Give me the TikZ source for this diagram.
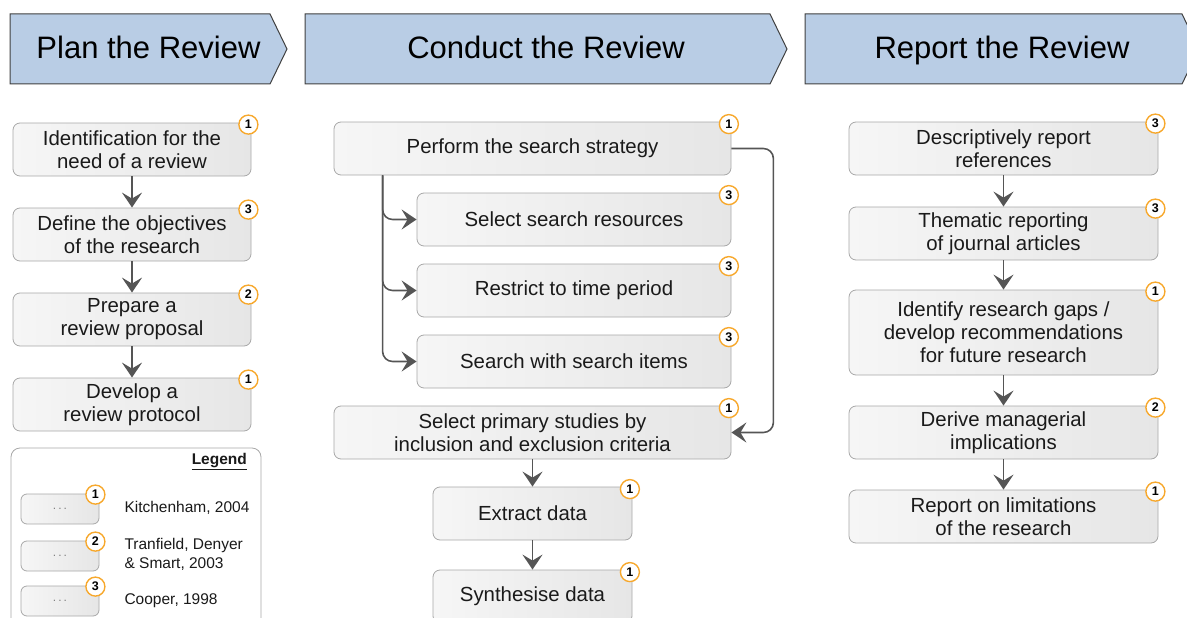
\documentclass[tikz,border=0pt]{standalone}
\usepackage{fontspec}
\setmainfont{Liberation Sans}
\usetikzlibrary{arrows.meta}
\definecolor{hdrfill}{HTML}{B9CDE5}
\definecolor{hdrline}{HTML}{404040}
\definecolor{boxline}{HTML}{A8A8A8}
\definecolor{boxL}{HTML}{F6F6F6}
\definecolor{boxR}{HTML}{E6E6E6}
\definecolor{badgeline}{HTML}{F7A82C}
\definecolor{arrcol}{HTML}{555555}
\definecolor{txt}{HTML}{1A1A1A}
\newcommand{\boxfont}{\fontsize{20.4}{23}\selectfont}
\newcommand{\hdrfont}{\fontsize{31}{36}\selectfont}
\newcommand{\badgefont}{\fontsize{12.5}{14}\selectfont\bfseries}
\newcommand{\legfont}{\fontsize{15.5}{19}\selectfont}
\tikzset{
  hdr/.style={draw=hdrline, fill=hdrfill, line width=1pt},
  hdrtext/.style={font=\hdrfont, text=black, text height=23pt, text depth=7pt},
  box/.style={draw=boxline, rounded corners=7pt, left color=boxL, right color=boxR,
    align=center, font=\boxfont, text=txt, inner sep=2pt, line width=0.8pt},
  badge/.style={circle, draw=badgeline, fill=white, line width=1.4pt,
    minimum size=19pt, inner sep=0pt, font=\badgefont},
  arr/.style={draw=arrcol, line width=1.6pt, -{Stealth[length=15pt,width=20pt,inset=6pt]}},
  legbox/.style={draw=boxline, rounded corners=9pt, fill=white, line width=0.8pt},
  minibox/.style={draw=boxline, rounded corners=6pt, left color=boxL, right color=boxR,
    line width=0.8pt, minimum width=78pt, minimum height=30pt, inner sep=0pt,
    font=\fontsize{12}{12}\selectfont, text=gray},
  legtext/.style={font=\legfont, text=txt, anchor=west, align=left},
}
\begin{document}
\begin{tikzpicture}[x=1pt,y=-1pt]
\useasboundingbox (0,0) rectangle (1187,618);

% ---------- headers ----------
\draw[hdr] (10,14) -- (270,14) -- (287,49) -- (270,84) -- (10,84) -- cycle;
\node[hdrtext] (h1) at (148.5,51) {Plan the Review};
\draw[hdr] (305,14) -- (770,14) -- (787,49) -- (770,84) -- (305,84) -- cycle;
\node[hdrtext] (h2) at (546,51) {Conduct the Review};
\draw[hdr] (805,14) -- (1182,14) -- (1199,49) -- (1182,84) -- (805,84) -- cycle;
\node[hdrtext] (h3) at (1002,51) {Report the Review};

% ---------- Plan column ----------
\node[box, minimum width=238pt, minimum height=53pt] (p1) at (132,149.5) {Identification for the\\need of a review};
\node[box, minimum width=238pt, minimum height=53pt] (p2) at (132,234.5) {Define the objectives\\of the research};
\node[box, minimum width=238pt, minimum height=53pt] (p3) at (132,319.5) {Prepare a\\review proposal};
\node[box, minimum width=238pt, minimum height=53pt] (p4) at (132,404.5) {Develop a\\review protocol};
\node[badge] (bp1) at ([xshift=-3pt,yshift=-2pt]p1.north east) {1};
\node[badge] (bp2) at ([xshift=-3pt,yshift=-2pt]p2.north east) {3};
\node[badge] (bp3) at ([xshift=-3pt,yshift=-2pt]p3.north east) {2};
\node[badge] (bp4) at ([xshift=-3pt,yshift=-2pt]p4.north east) {1};
\draw[arr] (p1) -- (p2);
\draw[arr] (p2) -- (p3);
\draw[arr] (p3) -- (p4);

% ---------- Legend ----------
\node[legbox, minimum width=250pt, minimum height=182pt] (leg) at (136,539) {};
\node[font=\fontsize{15.5}{18}\selectfont\bfseries, text=txt, anchor=north east] (legt) at ([xshift=-11pt,yshift=-2pt]leg.north east) {\underline{Legend}};
\node[minibox] (m1) at (60,509) {.\,.\,.};
\node[minibox] (m2) at (60,556) {.\,.\,.};
\node[minibox] (m3) at (60,601) {.\,.\,.};
\node[badge] (bm1) at ([xshift=-4pt,yshift=-1pt]m1.north east) {1};
\node[badge] (bm2) at ([xshift=-4pt,yshift=-1pt]m2.north east) {2};
\node[badge] (bm3) at ([xshift=-4pt,yshift=-1pt]m3.north east) {3};
\node[legtext] (l1) at (121,508) {Kitchenham, 2004};
\node[legtext] (l2) at (121,554) {Tranfield, Denyer\\\& Smart, 2003};
\node[legtext] (l3) at (121,601) {Cooper, 1998};

% ---------- Conduct column ----------
\node[box, minimum width=397pt, minimum height=53pt] (c1) at (532.5,148.5) {Perform the search strategy};
\node[box, minimum width=314pt, minimum height=53pt] (s1) at (574,219.5) {Select search resources};
\node[box, minimum width=314pt, minimum height=53pt] (s2) at (574,290.5) {Restrict to time period};
\node[box, minimum width=314pt, minimum height=53pt] (s3) at (574,361.5) {Search with search items};
\node[box, minimum width=397pt, minimum height=53pt] (c2) at (532.5,432.5) {Select primary studies by\\inclusion and exclusion criteria};
\node[box, minimum width=199pt, minimum height=53pt] (c3) at (532.5,513.5) {Extract data};
\node[box, minimum width=199pt, minimum height=53pt] (c4) at (532.5,596.5) {Synthesise data};
\node[badge] (bc1) at ([xshift=-2.5pt,yshift=-2.5pt]c1.north east) {1};
\node[badge] (bs1) at ([xshift=-2.5pt,yshift=-2.5pt]s1.north east) {3};
\node[badge] (bs2) at ([xshift=-2.5pt,yshift=-2.5pt]s2.north east) {3};
\node[badge] (bs3) at ([xshift=-2.5pt,yshift=-2.5pt]s3.north east) {3};
\node[badge] (bc2) at ([xshift=-2.5pt,yshift=-2.5pt]c2.north east) {1};
\node[badge] (bc3) at ([xshift=-2.5pt,yshift=-2.5pt]c3.north east) {1};
\node[badge] (bc4) at ([xshift=-2.5pt,yshift=-2.5pt]c4.north east) {1};
\coordinate (fork) at ([xshift=49pt]c1.south west);
\draw[arr, rounded corners=10pt] (fork) |- (s1.west);
\draw[arr, rounded corners=10pt] (fork) |- (s2.west);
\draw[arr, rounded corners=10pt] (fork) |- (s3.west);
\draw[arr, rounded corners=10pt] (c1.east) -- ++(42,0) |- (c2.east);
\draw[arr] (c2) -- (c3);
\draw[arr] (c3) -- (c4);

% ---------- Report column ----------
\node[box, minimum width=309pt, minimum height=53pt] (r1) at (1003.5,148.5) {Descriptively report\\references};
\node[box, minimum width=309pt, minimum height=53pt] (r2) at (1003.5,233.5) {Thematic reporting\\of journal articles};
\node[box, minimum width=309pt, minimum height=85pt] (r3) at (1003.5,332.5) {Identify research gaps /\\develop recommendations\\for future research};
\node[box, minimum width=309pt, minimum height=53pt] (r4) at (1003.5,432.5) {Derive managerial\\implications};
\node[box, minimum width=309pt, minimum height=53pt] (r5) at (1003.5,516.5) {Report on limitations\\of the research};
\node[badge] (br1) at ([xshift=-3pt,yshift=-2pt]r1.north east) {3};
\node[badge] (br2) at ([xshift=-3pt,yshift=-2pt]r2.north east) {3};
\node[badge] (br3) at ([xshift=-3pt,yshift=-2pt]r3.north east) {1};
\node[badge] (br4) at ([xshift=-3pt,yshift=-2pt]r4.north east) {2};
\node[badge] (br5) at ([xshift=-3pt,yshift=-2pt]r5.north east) {1};
\draw[arr] (r1) -- (r2);
\draw[arr] (r2) -- (r3);
\draw[arr] (r3) -- (r4);
\draw[arr] (r4) -- (r5);
\end{tikzpicture}
\end{document}
